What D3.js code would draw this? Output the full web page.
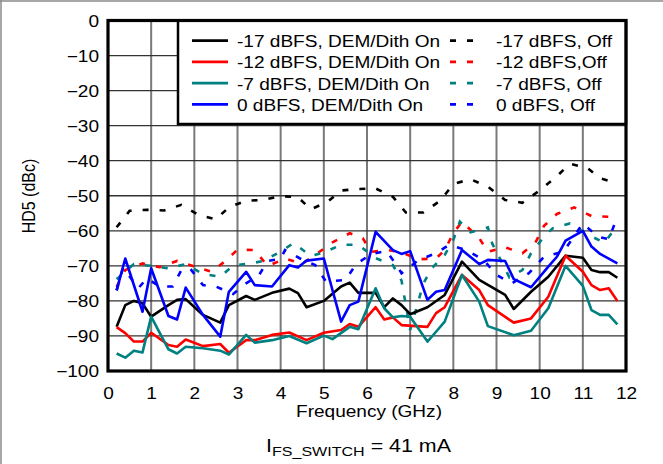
<!DOCTYPE html>
<html><head><meta charset="utf-8">
<script src="https://cdn.jsdelivr.net/npm/d3@7"></script>
<style>body{margin:0;background:#fff}svg text{font-family:Arial,"Liberation Sans",sans-serif;fill:#000}</style>
</head><body><svg id="c" width="663" height="464"></svg>
<script>
// ---------- data ----------
const xTicks = [0,1,2,3,4,5,6,7,8,9,10,11,12];
const yTicks = [0,-10,-20,-30,-40,-50,-60,-70,-80,-90,-100];
const seriesNames = ["-17 dBFS, DEM/Dith On","-12 dBFS, DEM/Dith On","-7 dBFS, DEM/Dith On","0 dBFS, DEM/Dith On",
                     "-17 dBFS, Off","-12 dBFS,Off","-7 dBFS, Off","0 dBFS, Off"];
const seriesColors = ["#000000","#ff0000","#008080","#0000ff"];

const fBlackOn = [0.2,0.4,0.6,0.8,1.0,1.4,1.6,1.8,2.2,2.6,2.8,3.2,3.4,3.8,4.2,4.4,4.6,5.0,5.4,5.6,5.8,6.2,6.4,6.6,6.8,7.0,7.4,7.8,8.2,8.6,9.2,9.4,9.8,10.2,10.6,11.0,11.2,11.4,11.6,11.8];
const vBlackOn = [-87.4,-81.2,-80.0,-80.7,-84.5,-81.2,-79.7,-79.5,-84.0,-86.2,-81.2,-78.6,-79.7,-77.7,-76.5,-77.8,-81.8,-80.0,-75.9,-74.8,-77.7,-77.7,-81.8,-79.3,-81.2,-83.8,-81.8,-78.3,-68.8,-74.0,-78.3,-82.3,-77.4,-73.1,-67.1,-67.7,-71.2,-71.8,-71.8,-73.4];

const fRedOn = [0.2,0.4,0.6,0.8,1.0,1.4,1.6,1.8,2.2,2.6,2.8,3.2,3.4,3.8,4.2,4.6,5.0,5.4,5.6,5.8,6.2,6.4,6.6,6.8,7.4,7.6,7.8,8.2,8.6,8.8,9.4,9.8,10.2,10.6,11.0,11.2,11.4,11.6,11.8];
const vRedOn = [-87.5,-89.2,-91.6,-91.6,-89.1,-92.6,-93.1,-91.0,-92.9,-92.3,-94.8,-91.2,-91.2,-89.7,-89.0,-91.2,-89.1,-88.3,-86.6,-87.4,-81.8,-85.3,-84.7,-86.9,-87.4,-83.5,-81.8,-72.6,-76.9,-81.2,-86.2,-85.0,-78.8,-67.1,-71.7,-75.5,-76.9,-76.4,-80.0];

const fTealOn = [0.2,0.4,0.6,0.8,1.0,1.4,1.6,1.8,2.2,2.6,2.8,3.2,3.4,3.8,4.2,4.6,5.0,5.2,5.6,5.8,6.2,6.4,6.6,6.8,7.0,7.4,7.6,7.8,8.2,8.6,8.8,9.4,9.8,10.2,10.6,11.0,11.2,11.4,11.6,11.8];
const vTealOn = [-95.0,-96.2,-94.2,-94.7,-84.5,-93.8,-95.0,-93.1,-93.5,-94.2,-95.3,-89.7,-91.9,-91.2,-90.0,-92.1,-89.9,-90.9,-87.4,-88.1,-76.4,-82.1,-84.7,-84.3,-84.5,-91.6,-88.8,-85.9,-72.6,-80.2,-87.2,-89.8,-88.5,-82.1,-70.0,-75.7,-82.6,-84.0,-84.0,-86.7];

const fBlueOn = [0.2,0.4,0.8,1.0,1.4,1.6,1.8,2.2,2.6,2.8,3.2,3.4,3.8,4.2,4.4,4.6,5.0,5.4,5.6,5.8,6.2,6.6,6.8,7.0,7.4,7.6,7.8,8.2,8.6,8.8,9.2,9.4,9.8,10.2,10.4,10.6,11.0,11.2,11.4,11.8];
const vBlueOn = [-77.0,-67.9,-83.1,-70.7,-84.3,-85.3,-76.2,-84.0,-90.2,-77.4,-71.7,-75.5,-75.9,-69.8,-70.5,-68.5,-67.9,-85.9,-81.2,-80.2,-60.3,-65.5,-66.6,-65.8,-79.7,-77.4,-76.9,-65.5,-69.5,-68.3,-68.6,-73.8,-76.1,-70.2,-67.4,-62.8,-60.0,-64.5,-66.6,-69.3];

const fBlackOff = [0.2,0.5,0.9,1.3,1.7,2.1,2.5,2.8,3.2,3.6,4.0,4.4,4.7,5.1,5.4,5.8,6.2,6.6,6.9,7.3,7.7,8.0,8.4,8.8,9.2,9.6,10.0,10.4,10.7,11.1,11.4,11.8];
const vBlackOff = [-59.0,-54.3,-54.0,-54.2,-52.6,-55.5,-56.7,-53.3,-51.4,-51.2,-50.1,-50.4,-53.9,-51.6,-48.5,-48.1,-47.9,-50.3,-54.8,-54.8,-51.4,-46.6,-45.3,-47.4,-51.2,-52.0,-48.5,-44.4,-40.9,-42.0,-45.0,-46.5];

const fRedOff = [0.2,0.4,0.8,1.2,1.6,2.0,2.4,2.7,3.0,3.4,3.7,4.1,4.5,4.8,5.2,5.6,5.9,6.1,6.5,6.8,7.2,7.6,7.8,8.0,8.2,8.6,8.8,9.2,9.6,9.9,10.1,10.4,10.8,11.2,11.6,11.8];
const vRedOff = [-76.0,-71.2,-69.3,-70.4,-68.6,-70.2,-71.7,-68.8,-65.4,-65.5,-70.1,-67.9,-69.4,-66.9,-63.3,-60.7,-62.1,-66.0,-65.5,-66.2,-68.1,-67.9,-65.5,-60.7,-57.4,-62.1,-66.0,-64.7,-66.4,-63.4,-58.6,-55.2,-53.3,-55.8,-56.0,-57.6];

const fTealOff = [0.2,0.6,1.0,1.4,1.8,2.2,2.6,2.9,3.3,3.6,4.0,4.3,4.7,5.0,5.4,5.8,6.2,6.6,6.8,7.0,7.2,7.3,7.5,7.8,8.0,8.15,8.4,8.8,8.9,9.3,9.6,9.8,10.1,10.3,10.7,11.1,11.5,11.8];
const vTealOff = [-73.8,-69.5,-70.0,-70.7,-69.5,-72.3,-73.1,-69.9,-69.3,-68.6,-65.9,-63.5,-67.2,-66.2,-64.0,-64.0,-67.8,-69.8,-74.2,-88.3,-79.7,-75.2,-70.7,-66.9,-62.6,-57.4,-60.4,-59.0,-63.6,-73.3,-71.2,-66.4,-61.7,-59.3,-57.9,-61.0,-63.4,-58.5];

const fBlueOff = [0.2,0.35,0.7,0.9,1.2,1.5,1.7,1.9,2.2,2.5,2.9,3.2,3.5,3.7,4.0,4.1,4.45,4.8,5.05,5.5,5.75,6.1,6.45,6.7,6.8,7.2,7.6,7.9,8.3,8.7,9.0,9.35,9.75,10.1,10.55,11.0,11.35,11.6,11.75];
const vBlueOff = [-77.0,-70.5,-76.4,-73.6,-75.9,-75.9,-71.2,-70.7,-75.5,-75.9,-78.0,-75.0,-72.6,-68.6,-68.0,-65.5,-67.9,-69.8,-74.5,-74.0,-69.5,-66.6,-65.8,-70.0,-72.1,-68.3,-66.4,-64.0,-65.5,-68.3,-72.6,-75.0,-72.1,-67.4,-66.0,-57.9,-61.7,-62.4,-57.6];

const solidF = [fBlackOn,fRedOn,fTealOn,fBlueOn];
const solidV = [vBlackOn,vRedOn,vTealOn,vBlueOn];
const dashF = [fBlackOff,fRedOff,fTealOff,fBlueOff];
const dashV = [vBlackOff,vRedOff,vTealOff,vBlueOff];

// ---------- drawing ----------
const svg = d3.select("#c");
const SX = 1.19; // horizontal text stretch of the original
const L=108, R=626, TOP=20.5, BOT=371;
const x = d3.scaleLinear().domain([0,12]).range([L,R]);
const y = d3.scaleLinear().domain([-100,0]).range([BOT,TOP]);

function txt(px,py,s,anchor,size){
  return svg.append("text").attr("transform",`translate(${px},${py}) scale(${SX},1)`)
    .attr("text-anchor",anchor).style("font-size",size+"px").text(s);
}

// outer image border (top and left)
svg.append("line").attr("x1",0).attr("x2",663).attr("y1",1).attr("y2",1).attr("stroke","#8a8a8a").attr("stroke-width",1.5);
svg.append("line").attr("x1",1).attr("x2",1).attr("y1",0).attr("y2",464).attr("stroke","#8a8a8a").attr("stroke-width",1.5);

// grid
svg.append("g").selectAll("line").data(xTicks.slice(1,-1)).join("line")
  .attr("x1",d=>x(d)).attr("x2",d=>x(d)).attr("y1",TOP).attr("y2",BOT)
  .attr("stroke","#7a7a7a").attr("stroke-width",2);
svg.append("g").selectAll("line").data(yTicks.slice(1,-1)).join("line")
  .attr("x1",L).attr("x2",R).attr("y1",d=>y(d)).attr("y2",d=>y(d))
  .attr("stroke","#333").attr("stroke-width",1.3);

// series
const line = d3.line().x(d=>x(d[0])).y(d=>y(d[1]));
for(let i=0;i<4;i++){
  svg.append("path").datum(dashF[i].map((f,j)=>[f,dashV[i][j]]))
    .attr("d",line).attr("fill","none").attr("stroke",seriesColors[i])
    .attr("stroke-width",2.6).attr("stroke-dasharray","6,11");
}
for(let i=0;i<4;i++){
  svg.append("path").datum(solidF[i].map((f,j)=>[f,solidV[i][j]]))
    .attr("d",line).attr("fill","none").attr("stroke",seriesColors[i])
    .attr("stroke-width",2.6).attr("stroke-linejoin","round");
}

// legend
const lg = {x:178, y:TOP, w:R-178, h:124-TOP};
svg.append("rect").attr("x",lg.x).attr("y",lg.y).attr("width",lg.w).attr("height",lg.h)
  .attr("fill","#fff").attr("stroke","#000").attr("stroke-width",2.5);
for(let i=0;i<4;i++){
  const ly = 40.7 + i*21.2;
  svg.append("line").attr("x1",192).attr("x2",228).attr("y1",ly).attr("y2",ly)
    .attr("stroke",seriesColors[i]).attr("stroke-width",2.8);
  txt(237, ly+6.5, seriesNames[i], "start", 16);
  svg.append("line").attr("x1",450).attr("x2",474).attr("y1",ly).attr("y2",ly)
    .attr("stroke",seriesColors[i]).attr("stroke-width",2.8).attr("stroke-dasharray","6,11");
  txt(496, ly+6.5, seriesNames[i+4], "start", 16);
}

// frame
svg.append("rect").attr("x",L).attr("y",TOP).attr("width",R-L).attr("height",BOT-TOP)
  .attr("fill","none").attr("stroke","#000").attr("stroke-width",3.2);

// axes (labels only)
const ax = svg.append("g").attr("transform",`translate(0,${BOT})`)
  .call(d3.axisBottom(x).tickValues(xTicks).tickSize(0).tickFormat(d3.format("d")));
ax.select(".domain").remove();
ax.selectAll("text").attr("y",0).attr("dy",0).attr("transform",`translate(0,28) scale(${SX},1)`)
  .style("font-size","16px").style("font-family","Arial, 'Liberation Sans', sans-serif").attr("fill","#000");
const ay = svg.append("g").attr("transform",`translate(${L},0)`)
  .call(d3.axisLeft(y).tickValues(yTicks).tickSize(0).tickFormat(d3.format("d")));
ay.select(".domain").remove();
ay.selectAll("text").attr("x",0).attr("dy",0).attr("transform",`translate(-9,5.8) scale(${SX},1)`)
  .style("font-size","16px").style("font-family","Arial, 'Liberation Sans', sans-serif").attr("fill","#000");

// axis titles
txt(369, 416.5, "Frequency (GHz)", "middle", 16);
svg.append("text").attr("transform",`translate(35,196) scale(${SX},1) rotate(-90)`)
  .attr("text-anchor","middle").style("font-size","16px").text("HD5 (dBc)");

// bottom note
const note = svg.append("text").attr("transform",`translate(266,452) scale(${SX},1)`).style("font-size","18px");
note.append("tspan").text("I");
note.append("tspan").attr("dy",4).style("font-size","13.5px").text("FS_SWITCH");
note.append("tspan").attr("dy",-4).text(" = 41 mA");
</script></body></html>
